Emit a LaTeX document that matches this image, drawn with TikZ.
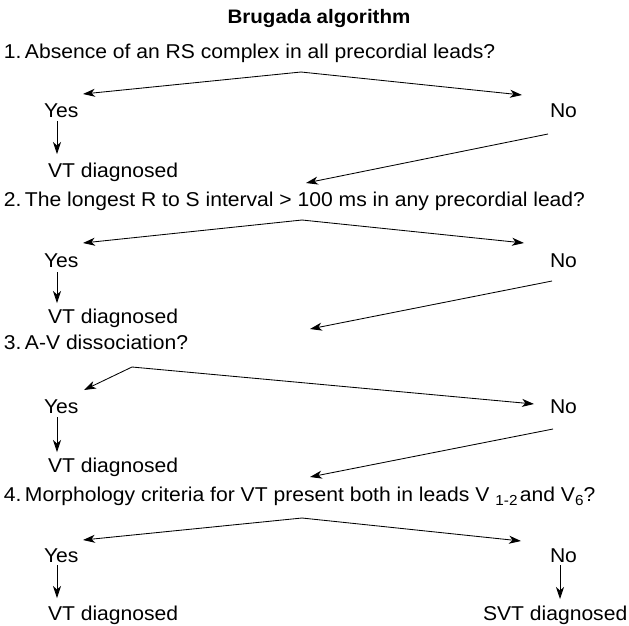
\documentclass[tikz,border=0pt]{standalone}
\usepackage{fontspec}
\setmainfont[FakeStretch=1.055]{Liberation Sans}
\usetikzlibrary{arrows.meta}
\newcommand{\numgap}{\hspace{0.17em}}
\newcommand{\lowsub}[1]{\raisebox{-0.45ex}{\fontsize{14.5}{14.5}\selectfont #1}}
\begin{document}
\begin{tikzpicture}[x=1pt,y=-1pt,
  txt/.style={inner sep=0pt, outer sep=0pt, anchor=base west, font=\fontsize{20}{24}\selectfont},
  arr/.style={-{Stealth[length=12pt,width=8pt,inset=3.5pt]}, line width=0.85pt}]
\useasboundingbox (0,0) rectangle (629,625);
\node[txt, anchor=base, font=\bfseries\fontsize{19.5}{22}\selectfont] (title) at (319,23) {Brugada algorithm};
% row 1
\node[txt] (q1) at (4,58) {1.\numgap Absence of an RS complex in all precordial leads?};
\node[txt] (y1) at (44,117) {Yes};
\node[txt] (n1) at (550,117) {No};
\node[txt] (d1) at (48,177) {VT diagnosed};
% row 2
\node[txt] (q2) at (4,206) {2.\numgap The longest R to S interval > 100 ms in any precordial lead?};
\node[txt] (y2) at (44,267) {Yes};
\node[txt] (n2) at (550,267) {No};
\node[txt] (d2) at (48,323) {VT diagnosed};
% row 3
\node[txt] (q3) at (4,349) {3.\numgap A-V dissociation?};
\node[txt] (y3) at (44,413) {Yes};
\node[txt] (n3) at (550,413) {No};
\node[txt] (d3) at (48,472) {VT diagnosed};
% row 4
\node[txt] (q4) at (4,501) {4.\numgap Morphology criteria for VT present both in leads V\hspace{0.3em}\lowsub{1-2}\hspace{0.12em}and V\lowsub{6}?};
\node[txt] (y4) at (44,562) {Yes};
\node[txt] (n4) at (550,562) {No};
\node[txt] (d4) at (48,620) {VT diagnosed};
\node[txt] (s4) at (483,620) {SVT diagnosed};
% coordinates
\coordinate (a1) at (301,72);  \coordinate (ty1) at (83,94);  \coordinate (tn1) at (522,95);
\coordinate (ys1) at (57,121); \coordinate (ye1) at (57,154);
\coordinate (ns1) at (548,134); \coordinate (ne1) at (306,183);
\coordinate (a2) at (302,220); \coordinate (ty2) at (83,243); \coordinate (tn2) at (524,243);
\coordinate (ys2) at (57,272); \coordinate (ye2) at (57,303);
\coordinate (ns2) at (552,281); \coordinate (ne2) at (310,329);
\coordinate (a3) at (132,367); \coordinate (ty3) at (84,390); \coordinate (tn3) at (534,404);
\coordinate (ys3) at (57,417); \coordinate (ye3) at (57,452);
\coordinate (ns3) at (553,429); \coordinate (ne3) at (310,477);
\coordinate (a4) at (302,518); \coordinate (ty4) at (83,540); \coordinate (tn4) at (521,541);
\coordinate (ys4) at (57,565); \coordinate (ye4) at (57,598);
\coordinate (nns4) at (560,565); \coordinate (nne4) at (560,599);
% arrows
\foreach \i in {1,2,3,4}{
  \draw[arr] (a\i) -- (ty\i);
  \draw[arr] (a\i) -- (tn\i);
  \draw[arr] (ys\i) -- (ye\i);
}
\foreach \i in {1,2,3}{
  \draw[arr] (ns\i) -- (ne\i);
}
\draw[arr] (nns4) -- (nne4);
\end{tikzpicture}
\end{document}
